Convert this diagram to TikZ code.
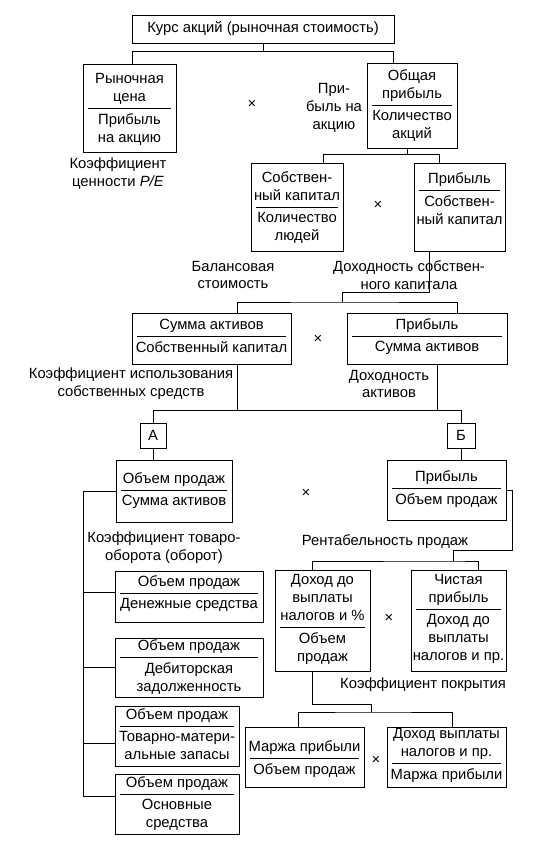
\documentclass[tikz,border=0pt]{standalone}
\usepackage{fontspec}
\setmainfont{Liberation Sans}
\usetikzlibrary{fit}

\newcommand{\ratiobox}[8]{%
  \node[box, fit={(#2,#3) (#4,#5)}] (#1) {};
  \node[txt, anchor=south, text depth=3pt] (#1-n) at ({(#2+#4)/2},#6-2) {#7};
  \node[txt, anchor=north] (#1-d) at ({(#2+#4)/2},#6+4) {#8};
  \draw (#2+5,#6) -- (#4-5,#6);
}

\begin{document}
\begin{tikzpicture}[x=1pt,y=-1pt,line width=1pt,
    box/.style={draw, inner sep=0pt},
    txt/.style={align=center, inner sep=1pt, font=\fontsize{14.8}{17.8}\selectfont}]
  \useasboundingbox (0,0) rectangle (538,844);
  \node[box, txt, minimum width=262, minimum height=28] (top) at (263,29) {Курс акций (рыночная стоимость)};

  \ratiobox{pe}{83}{64}{176}{152}{108}{Рыночная\\цена}{Прибыль\\на акцию}
  \ratiobox{eps}{367}{63}{457}{148}{105}{Общая\\прибыль}{Количество\\акций}
  \node[txt] (x1) at (252,104) {×};
  \node[txt] (epsl) at (334,108) {При-\\быль на\\акцию};
  \node[txt] (pel) at (118,174) {Коэффициент\\ценности \textit{P/E}};
  \draw ([xshift=3pt]pe.north) -- ++(0,-12) -| (top.south);
  \draw ([xshift=-19pt]eps.north) -- ++(0,-11) -| (top.south);

  \ratiobox{bv}{251}{163}{343}{251}{207}{Собствен-\\ный капитал}{Количество\\людей}
  \ratiobox{roe}{414}{163}{505}{251}{190}{Прибыль}{Собствен-\\ный капитал}
  \node[txt] (x2) at (378,205) {×};
  \node[txt] (bvl) at (233,275) {Балансовая\\стоимость};
  \node[txt] (roel) at (409,275) {Доходность собствен-\\ного капитала};
  \draw ([xshift=26pt]bv.north) -- ++(0,-8) -| ([xshift=-5pt]eps.south);
  \draw ([xshift=-20pt]roe.north) -- ++(0,-8) -| ([xshift=-5pt]eps.south);

  \ratiobox{am}{132}{313}{291}{364}{336}{Сумма активов}{Собственный капитал}
  \ratiobox{roa}{347}{313}{507}{364}{336}{Прибыль}{Сумма активов}
  \node[txt] (x3) at (318,339) {×};
  \node[txt] (aml) at (131,384) {Коэффициент использования\\собственных средств};
  \node[txt] (roal) at (389,384) {Доходность\\активов};
  \coordinate (j1) at (342,302);
  \draw ([xshift=-30pt]roe.south) |- ([yshift=10pt]j1) -- (j1);
  \draw ([xshift=26pt]am.north) |- (j1) -| ([xshift=30pt]roa.north);

  \node[box, txt, minimum width=26, minimum height=25] (A) at (153,435.5) {А};
  \node[box, txt, minimum width=28, minimum height=25] (B) at (461,435.5) {Б};
  \coordinate (bar) at (0,411);
  \coordinate (amb) at ([xshift=26pt]am.south);
  \coordinate (roab) at ([xshift=10pt]roa.south);
  \draw (A.north) -- ++(0,-12) -| (B.north);
  \draw (amb) -- (amb |- bar);
  \draw (roab) -- (roab |- bar);

  \ratiobox{at}{116}{460}{232}{522}{490}{Объем продаж}{Сумма активов}
  \ratiobox{ros}{387}{460}{506}{520}{488}{Прибыль}{Объем продаж}
  \node[txt] (x4) at (306,493) {×};
  \node[txt] (atl) at (164,548) {Коэффициент товаро-\\оборота (оборот)};
  \node[txt] (rosl) at (385,542) {Рентабельность продаж};
  \draw (A.south) -- (A.south |- at.north);
  \draw (B.south) -- (B.south |- ros.north);

  % oborachivaemost
  \ratiobox{cash}{115}{571}{263}{622}{593}{Объем продаж}{Денежные средства}
  \ratiobox{rec}{115}{638}{263}{697}{657}{Объем продаж}{Дебиторская\\задолженность}
  \ratiobox{inv}{115}{706}{239}{766}{726}{Объем продаж}{Товарно-матери-\\альные запасы}
  \ratiobox{fa}{115}{774}{239}{834}{794}{Объем продаж}{Основные\\средства}
  \coordinate (rail) at (83,0);
  \coordinate (cash-in) at ([yshift=4.5pt]cash.west);
  \coordinate (rec-in) at (rec.west);
  \coordinate (inv-in) at ([yshift=-7pt]inv.west);
  \coordinate (fa-in) at ([yshift=8pt]fa.west);
  \draw (at.west) -| (rail |- fa-in) -- (fa-in);
  \foreach \n in {cash,rec,inv}
    \draw (rail |- \n-in) -- (\n-in);

  % rentabelnost
  \ratiobox{ebit}{275}{570}{370}{671}{627}{Доход до\\выплаты\\налогов и \%}{Объем\\продаж}
  \ratiobox{tax}{411}{570}{506}{671}{609}{Чистая\\прибыль}{Доход до\\выплаты\\налогов и пр.}
  \node[txt] (x5) at (389,618) {×};
  \node[txt] (ebitl) at (423,685) {Коэффициент покрытия};
  \coordinate (j3) at (453,561);
  \draw (ros.east) -- ++(6,0) |- ([yshift=11pt]j3) -- (j3);
  \draw ([xshift=-10pt]ebit.north) |- (j3) -| ([xshift=20pt]tax.north);

  \ratiobox{pm}{245}{727}{364}{787}{758}{Маржа прибыли}{Объем продаж}
  \ratiobox{cov}{387}{727}{506}{787}{763}{Доход выплаты\\налогов и пр.}{Маржа прибыли}
  \node[txt] (x6) at (376,760) {×};
  \coordinate (j4) at (371,712);
  \draw ([xshift=-10pt]ebit.south) |- ([yshift=8pt]j4) -- (j4);
  \draw ([xshift=-6pt]pm.north) |- (j4) -| ([xshift=6pt]cov.north);
\end{tikzpicture}
\end{document}
